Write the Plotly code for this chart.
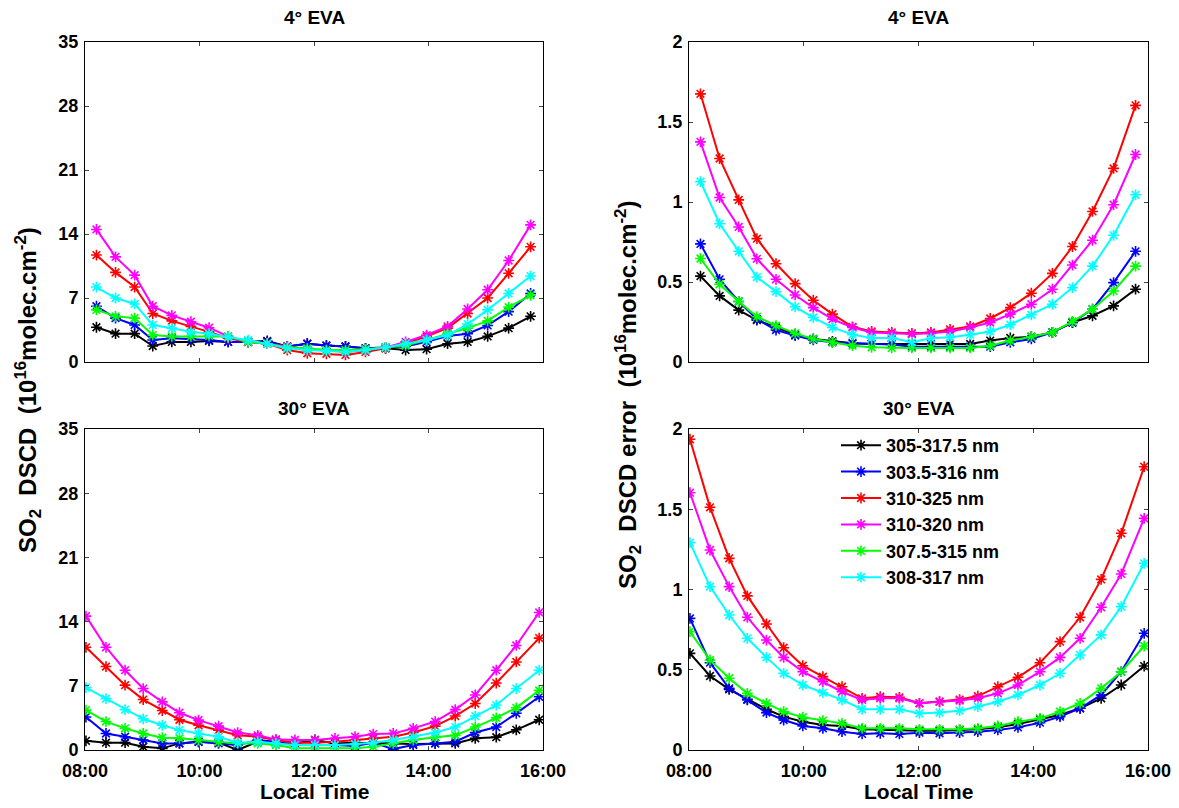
import plotly.graph_objects as go

# ---------------- data ----------------
series_names = ["305-317.5 nm", "303.5-316 nm", "310-325 nm", "310-320 nm", "307.5-315 nm", "308-317 nm"]
series_colors = ["#000000", "#0000FF", "#FF0000", "#FF00FF", "#00FF00", "#00FFFF"]

x_tick_labels = ["08:00", "10:00", "12:00", "14:00", "16:00"]
left_y_ticks = [0, 7, 14, 21, 28, 35]
right_y_ticks = [0, 0.5, 1, 1.5, 2]

times_4 = ["08:12", "08:32", "08:52", "09:11", "09:31", "09:51", "10:10", "10:30", "10:51", "11:11",
           "11:32", "11:53", "12:13", "12:33", "12:54", "13:15", "13:36", "13:58", "14:20", "14:41",
           "15:02", "15:24", "15:47"]
times_30 = ["08:01", "08:22", "08:42", "09:01", "09:21", "09:39", "09:59", "10:20", "10:40", "11:01",
            "11:20", "11:40", "12:01", "12:22", "12:43", "13:02", "13:23", "13:44", "14:07", "14:28",
            "14:49", "15:11", "15:32", "15:56"]

# 4 deg EVA, SO2 DSCD (1e16 molec/cm2)
dscd4_305_3175 = [3.8, 3.1, 3.1, 1.75, 2.2, 2.2, 2.3, 2.2, 2.2, 2.3, 1.7, 2.0, 1.8, 1.7, 1.5, 1.5, 1.3, 1.4, 2.0, 2.2, 2.8, 3.7, 5.0]
dscd4_3035_316 = [6.1, 4.8, 4.05, 2.4, 2.6, 2.5, 2.4, 2.2, 2.2, 2.2, 1.7, 2.0, 1.8, 1.7, 1.5, 1.6, 1.7, 2.2, 2.85, 3.1, 4.0, 5.5, 7.5]
dscd4_310_325 = [11.7, 9.8, 8.2, 5.3, 4.5, 3.9, 3.3, 2.6, 2.2, 2.0, 1.3, 0.95, 0.9, 0.77, 1.1, 1.5, 2.0, 2.8, 3.7, 5.3, 7.0, 9.7, 12.6]
dscd4_310_320 = [14.5, 11.5, 9.5, 6.1, 5.1, 4.4, 3.75, 2.8, 2.2, 2.0, 1.7, 1.3, 1.3, 1.1, 1.3, 1.6, 2.2, 2.95, 3.9, 5.8, 7.9, 11.1, 15.0]
dscd4_3075_315 = [5.7, 5.0, 4.8, 2.95, 2.8, 2.8, 2.85, 2.8, 2.2, 2.0, 1.6, 1.5, 1.3, 1.3, 1.4, 1.6, 1.8, 2.4, 3.1, 3.7, 4.5, 6.0, 7.3]
dscd4_308_317 = [8.2, 7.0, 6.35, 4.05, 3.7, 3.3, 3.1, 2.7, 2.4, 2.0, 1.5, 1.3, 1.2, 1.1, 1.3, 1.6, 2.0, 2.4, 2.95, 4.15, 5.7, 7.5, 9.4]

# 30 deg EVA, SO2 DSCD
dscd30_305_3175 = [1.0, 0.8, 0.8, 0.36, 0.18, 0.72, 0.9, 0.8, 0.0, 0.9, 0.72, 0.72, 1.1, 0.72, 0.8, 0.8, 0.72, 0.65, 0.72, 0.72, 1.27, 1.4, 2.2, 3.3]
dscd30_3035_316 = [3.6, 1.8, 1.45, 1.09, 0.72, 0.72, 0.9, 0.72, 0.54, 1.09, 0.9, 0.54, 0.54, 0.54, 0.43, 0.8, 0.1, 0.54, 0.72, 0.9, 1.9, 2.5, 4.0, 5.8]
dscd30_310_325 = [11.2, 9.1, 7.07, 5.5, 4.3, 3.3, 2.7, 2.17, 1.6, 1.45, 1.09, 0.8, 0.8, 0.9, 1.09, 1.27, 1.45, 1.9, 2.6, 3.7, 5.07, 7.3, 9.6, 12.2]
dscd30_310_320 = [14.6, 11.2, 8.7, 6.7, 5.25, 4.06, 3.26, 2.6, 1.9, 1.6, 1.16, 1.09, 1.09, 1.27, 1.45, 1.74, 1.8, 2.36, 3.1, 4.4, 6.0, 8.7, 11.4, 15.0]
dscd30_3075_315 = [4.35, 3.1, 2.36, 1.8, 1.34, 1.27, 1.09, 0.9, 0.72, 0.72, 0.54, 0.18, 0.18, 0.18, 0.18, 0.36, 0.72, 1.09, 1.38, 1.6, 2.5, 3.5, 4.6, 6.5]
dscd30_308_317 = [6.8, 5.6, 4.4, 3.4, 2.7, 2.17, 1.8, 1.45, 0.8, 0.9, 0.72, 0.54, 0.54, 0.54, 0.65, 0.8, 1.09, 1.45, 1.9, 2.5, 3.7, 4.9, 6.7, 8.7]

# 4 deg EVA, SO2 DSCD error
err4_305_3175 = [0.537, 0.413, 0.324, 0.262, 0.216, 0.171, 0.144, 0.129, 0.117, 0.113, 0.113, 0.113, 0.113, 0.113, 0.113, 0.134, 0.150, 0.158, 0.185, 0.247, 0.289, 0.351, 0.455]
err4_3035_316 = [0.738, 0.517, 0.378, 0.268, 0.200, 0.165, 0.138, 0.123, 0.117, 0.113, 0.109, 0.096, 0.096, 0.096, 0.096, 0.096, 0.123, 0.144, 0.185, 0.247, 0.330, 0.496, 0.692]
err4_310_325 = [1.676, 1.272, 1.013, 0.771, 0.614, 0.490, 0.386, 0.299, 0.220, 0.191, 0.185, 0.179, 0.185, 0.204, 0.222, 0.272, 0.340, 0.430, 0.554, 0.722, 0.941, 1.210, 1.604]
err4_310_320 = [1.376, 1.028, 0.844, 0.645, 0.517, 0.419, 0.340, 0.268, 0.216, 0.185, 0.179, 0.175, 0.179, 0.191, 0.216, 0.247, 0.299, 0.361, 0.455, 0.606, 0.761, 0.983, 1.297]
err4_3075_315 = [0.647, 0.486, 0.378, 0.283, 0.227, 0.179, 0.144, 0.123, 0.102, 0.092, 0.088, 0.088, 0.088, 0.088, 0.088, 0.102, 0.134, 0.158, 0.185, 0.253, 0.330, 0.444, 0.599]
err4_308_317 = [1.127, 0.864, 0.692, 0.531, 0.440, 0.345, 0.278, 0.216, 0.171, 0.150, 0.150, 0.123, 0.148, 0.154, 0.171, 0.191, 0.233, 0.295, 0.361, 0.465, 0.599, 0.792, 1.045]

# 30 deg EVA, SO2 DSCD error
err30_305_3175 = [0.602, 0.461, 0.378, 0.316, 0.254, 0.208, 0.176, 0.156, 0.150, 0.129, 0.125, 0.125, 0.120, 0.120, 0.125, 0.129, 0.141, 0.162, 0.191, 0.218, 0.260, 0.322, 0.405, 0.523]
err30_3035_316 = [0.820, 0.544, 0.384, 0.312, 0.233, 0.187, 0.150, 0.135, 0.114, 0.100, 0.104, 0.100, 0.108, 0.104, 0.108, 0.114, 0.125, 0.141, 0.170, 0.208, 0.260, 0.343, 0.488, 0.727]
err30_310_325 = [1.936, 1.512, 1.194, 0.960, 0.785, 0.637, 0.525, 0.457, 0.394, 0.322, 0.332, 0.328, 0.291, 0.301, 0.314, 0.336, 0.394, 0.453, 0.544, 0.675, 0.827, 1.063, 1.350, 1.765]
err30_310_320 = [1.603, 1.246, 1.018, 0.827, 0.685, 0.577, 0.488, 0.426, 0.363, 0.312, 0.322, 0.322, 0.291, 0.301, 0.308, 0.322, 0.353, 0.405, 0.488, 0.577, 0.696, 0.889, 1.097, 1.443]
err30_3075_315 = [0.737, 0.561, 0.447, 0.353, 0.291, 0.239, 0.204, 0.183, 0.166, 0.135, 0.135, 0.135, 0.129, 0.129, 0.129, 0.135, 0.150, 0.176, 0.197, 0.239, 0.291, 0.384, 0.488, 0.648]
err30_308_317 = [1.292, 1.018, 0.841, 0.696, 0.577, 0.478, 0.405, 0.357, 0.312, 0.254, 0.254, 0.254, 0.228, 0.233, 0.245, 0.270, 0.301, 0.343, 0.405, 0.478, 0.592, 0.717, 0.893, 1.163]

panels = [
    (times_4, [dscd4_305_3175, dscd4_3035_316, dscd4_310_325, dscd4_310_320, dscd4_3075_315, dscd4_308_317], "x", "y"),
    (times_4, [err4_305_3175, err4_3035_316, err4_310_325, err4_310_320, err4_3075_315, err4_308_317], "x2", "y2"),
    (times_30, [dscd30_305_3175, dscd30_3035_316, dscd30_310_325, dscd30_310_320, dscd30_3075_315, dscd30_308_317], "x3", "y3"),
    (times_30, [err30_305_3175, err30_3035_316, err30_310_325, err30_310_320, err30_3075_315, err30_308_317], "x4", "y4"),
]


def to_hours(t):
    h, m = t.split(":")
    return int(h) + int(m) / 60.0


fig = go.Figure()
for p_idx, (times, series, xa, ya) in enumerate(panels):
    xs = [to_hours(t) for t in times]
    for name, color, vals in zip(series_names, series_colors, series):
        fig.add_trace(go.Scatter(
            x=xs, y=vals, xaxis=xa, yaxis=ya, mode="lines+markers", name=name,
            legendgroup=name, showlegend=(p_idx == 3),
            line=dict(color=color, width=2),
            marker=dict(symbol="asterisk-open", size=9, color=color, line=dict(color=color, width=1.6)),
        ))

# the page body has an 8 px margin; figure coordinates = page coordinates - 8
W, H = 1171, 800
OFF = 8
FONT = "Liberation Sans, Arial, sans-serif"
tick_font = dict(family=FONT, size=18, color="black", weight="bold")


def px_x(p):
    return (p - OFF) / W


def px_y(p):
    return 1 - (p - OFF) / H


xl = [px_x(85), px_x(543)]
xr = [px_x(689), px_x(1148)]
yt = [px_y(362), px_y(42)]
yb = [px_y(750), px_y(429)]

x_tick_vals = [to_hours(t) for t in x_tick_labels]

common_x = dict(range=[8, 16], tickvals=x_tick_vals, ticktext=x_tick_labels, ticks="inside", ticklen=4,
                showline=True, linecolor="black", linewidth=1, mirror="ticks", showgrid=False,
                zeroline=False, tickfont=tick_font, automargin=False, ticklabelstandoff=4)
common_y = dict(ticks="inside", ticklen=4, showline=True, linecolor="black", linewidth=1, mirror="ticks",
                showgrid=False, zeroline=False, tickfont=tick_font, automargin=False, ticklabelstandoff=2)

fig.update_layout(
    template="none",
    width=W, height=H, margin=dict(l=0, r=0, t=0, b=0, pad=0, autoexpand=False),
    paper_bgcolor="white", plot_bgcolor="white",
    font=dict(family=FONT, color="black"),
    xaxis=dict(domain=xl, anchor="y", showticklabels=False, **common_x),
    xaxis2=dict(domain=xr, anchor="y2", showticklabels=False, **common_x),
    xaxis3=dict(domain=xl, anchor="y3", **common_x),
    xaxis4=dict(domain=xr, anchor="y4", **common_x),
    yaxis=dict(domain=yt, anchor="x", range=[0, 35], tickvals=left_y_ticks, **common_y),
    yaxis2=dict(domain=yt, anchor="x2", range=[0, 2], tickvals=right_y_ticks, **common_y),
    yaxis3=dict(domain=yb, anchor="x3", range=[0, 35], tickvals=left_y_ticks, **common_y),
    yaxis4=dict(domain=yb, anchor="x4", range=[0, 2], tickvals=right_y_ticks, **common_y),
    legend=dict(x=828 / W, y=1 - 419 / H, xanchor="left", yanchor="top", bgcolor="rgba(0,0,0,0)",
                borderwidth=0, font=dict(family=FONT, size=18, color="black", weight="bold"),
                itemwidth=40, tracegroupgap=0),
)

title_font = dict(family=FONT, size=19, color="black", weight="bold")
xt_font = dict(family=FONT, size=21, color="black", weight="bold")
yt_font = dict(family=FONT, size=24, color="black", weight="bold")
annotations = [
    dict(text="4° EVA", x=(xl[0] + xl[1]) / 2, y=px_y(18), font=title_font),
    dict(text="4° EVA", x=(xr[0] + xr[1]) / 2, y=px_y(18), font=title_font),
    dict(text="30° EVA", x=(xl[0] + xl[1]) / 2, y=px_y(408), font=title_font),
    dict(text="30° EVA", x=(xr[0] + xr[1]) / 2, y=px_y(408), font=title_font),
    dict(text="Local Time", x=(xl[0] + xl[1]) / 2, y=px_y(791), font=xt_font),
    dict(text="Local Time", x=(xr[0] + xr[1]) / 2, y=px_y(791), font=xt_font),
    dict(text="SO<sub>2</sub>  DSCD  (10<sup>16</sup>molec.cm<sup>-2</sup>)", x=px_x(28), y=px_y(390),
         textangle=-90, font=yt_font),
    dict(text="SO<sub>2</sub>  DSCD error  (10<sup>16</sup>molec.cm<sup>-2</sup>)", x=px_x(628), y=px_y(395),
         textangle=-90, font=yt_font),
]
for a in annotations:
    a.update(xref="paper", yref="paper", showarrow=False, xanchor="center", yanchor="middle")
fig.update_layout(annotations=annotations)

fig.write_html("out.html")
